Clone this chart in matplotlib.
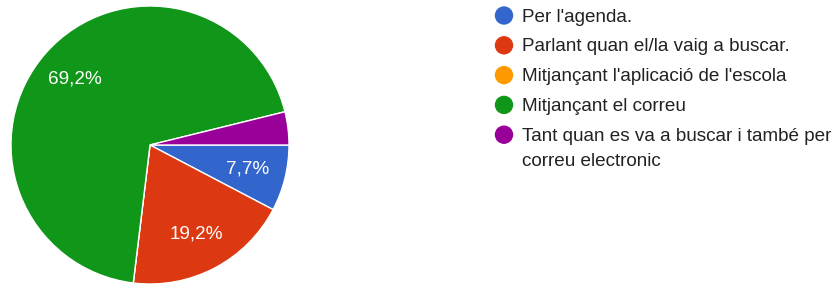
import matplotlib
matplotlib.use("Agg")
import matplotlib.pyplot as plt

labels = ["Per l'agenda.",
          "Parlant quan el/la vaig a buscar.",
          "Mitjançant l'aplicació de l'escola",
          "Mitjançant el correu",
          "Tant quan es va a buscar i també per\ncorreu electronic"]
counts = [2, 5, 0, 18, 1]
colors = ["#3366cc", "#dc3912", "#ff9900", "#109618", "#990099"]

plt.rcParams['font.family'] = ['Liberation Sans', 'DejaVu Sans']

W, H = 839, 284
fig = plt.figure(figsize=(W/100, H/100), dpi=100)

# pie
ax = fig.add_axes([11/W, 0, 278/W, 278/H])
def pct(p):
    if p < 5:
        return ''
    return f"{p:.1f}%".replace('.', ',')
wedges, texts, autotexts = ax.pie(counts, colors=colors, startangle=0, counterclock=False,
                                  autopct=pct, pctdistance=0.72,
                                  wedgeprops=dict(edgecolor='white', linewidth=1))
for t in autotexts:
    t.set_color('white')
    t.set_fontsize(13.6)
ax.set_xlim(-1, 1)
ax.set_ylim(-1, 1)
ax.set_aspect('equal')

# legend
lx = 504
tx = 522
for i, (lab, c) in enumerate(zip(labels, colors)):
    cy = 15.5 + i*29.8
    fig.patches.append(matplotlib.patches.Ellipse((lx/W, 1 - cy/H), 17/W, 17/H,
                                                  transform=fig.transFigure, color=c))
    for j, line in enumerate(lab.split('\n')):
        fig.text(tx/W, 1 - (cy + 6 + j*25)/H, line, fontsize=13.6, color='#222222',
                 va='baseline', ha='left')

fig.savefig("out.png", dpi=100)
